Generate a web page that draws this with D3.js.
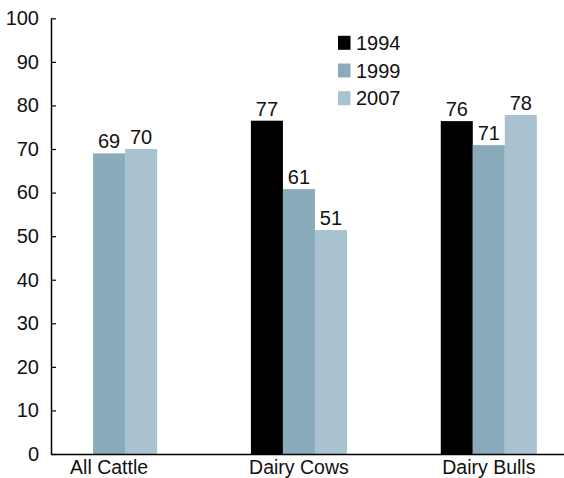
<!DOCTYPE html>
<html>
<head>
<meta charset="utf-8">
<script src="https://cdn.jsdelivr.net/npm/d3@7"></script>
<style>
  body { margin: 0; background: #fff; }
  text { font-family: "Liberation Sans", Arial, sans-serif; }
</style>
</head>
<body>
<div id="chart"></div>
<script>
// data
const categories = ["All Cattle", "Dairy Cows", "Dairy Bulls"];
const years = ["1994", "1999", "2007"];
const values1994 = [null, 76.5, 76.4];
const values1999 = [69, 60.8, 70.9];
const values2007 = [70, 51.4, 77.8];
const yTicks = [0, 10, 20, 30, 40, 50, 60, 70, 80, 90, 100];

const yearColors = { "1994": "#000000", "1999": "#8aabbb", "2007": "#a9c2cf" };

const seriesByYear = { "1994": values1994, "1999": values1999, "2007": values2007 };

// Build rows for drawing
const rows = [];
categories.forEach((c, i) => {
  years.forEach((yr) => {
    const v = seriesByYear[yr][i];
    if (v !== null) rows.push({ category: c, year: yr, value: v });
  });
});

var margin = { top: 18.3, right: 0, bottom: 24, left: 51 },
  fullW = 564,
  fullH = 478,
  width = fullW - margin.left - margin.right,
  height = fullH - margin.top - margin.bottom;

var svg = d3
  .select("#chart")
  .append("svg")
  .attr("width", fullW)
  .attr("height", fullH)
  .append("g")
  .attr("transform", "translate(" + margin.left + "," + margin.top + ")");

// X scales: groups and bars inside each group
var x0 = d3
  .scaleBand()
  .domain(categories)
  .range([0, width])
  .paddingInner(0.494)
  .paddingOuter(0.098)
  .align(0.27);

var x1 = d3.scaleBand().domain(years).range([0, x0.bandwidth()]).padding(0);

var y = d3.scaleLinear().domain([0, 100]).range([height, 0]);

// Y axis (ticks point into the plot)
var yAxis = svg
  .append("g")
  .call(d3.axisLeft(y).tickValues(yTicks).tickSizeInner(-5).tickSizeOuter(0).tickPadding(12));
yAxis.select(".domain").attr("stroke", "#000").attr("stroke-width", 1.5);
yAxis.selectAll(".tick line").attr("stroke", "#000").attr("stroke-width", 1.2);
yAxis
  .selectAll(".tick text")
  .style("font-size", "20px")
  .style("font-family", "Liberation Sans, Arial, sans-serif")
  .attr("fill", "#111");

// Bars
svg
  .selectAll(".bar")
  .data(rows)
  .enter()
  .append("rect")
  .attr("class", "bar")
  .attr("x", (d) => x0(d.category) + x1(d.year))
  .attr("y", (d) => y(d.value))
  .attr("width", x1.bandwidth())
  .attr("height", (d) => height - y(d.value))
  .attr("fill", (d) => yearColors[d.year]);

// Value labels above bars
svg
  .selectAll(".label")
  .data(rows)
  .enter()
  .append("text")
  .attr("class", "label")
  .attr("x", (d) => x0(d.category) + x1(d.year) + x1.bandwidth() / 2)
  .attr("y", (d) => y(d.value) - 5)
  .attr("text-anchor", "middle")
  .style("font-size", "20px")
  .attr("fill", "#111")
  .text((d) => Math.round(d.value));

// Baseline across the full width
var xAxis = svg
  .append("g")
  .attr("transform", "translate(0," + height + ")")
  .call(d3.axisBottom(x0).tickSize(0).tickPadding(6));
xAxis.select(".domain").attr("stroke", "#000").attr("stroke-width", 1.5);
xAxis
  .selectAll(".tick text")
  .style("font-size", "19.5px")
  .style("font-family", "Liberation Sans, Arial, sans-serif")
  .attr("fill", "#111");

// Legend
var legend = svg
  .selectAll(".legend")
  .data(years)
  .enter()
  .append("g")
  .attr("class", "legend")
  .attr("transform", (d, i) => "translate(287," + (17.5 + i * 27.7) + ")");

legend
  .append("rect")
  .attr("width", 12.5)
  .attr("height", 14)
  .attr("fill", (d) => yearColors[d]);

legend
  .append("text")
  .attr("x", 18)
  .attr("y", 14)
  .style("font-size", "20px")
  .attr("fill", "#111")
  .text((d) => d);
</script>
</body>
</html>
